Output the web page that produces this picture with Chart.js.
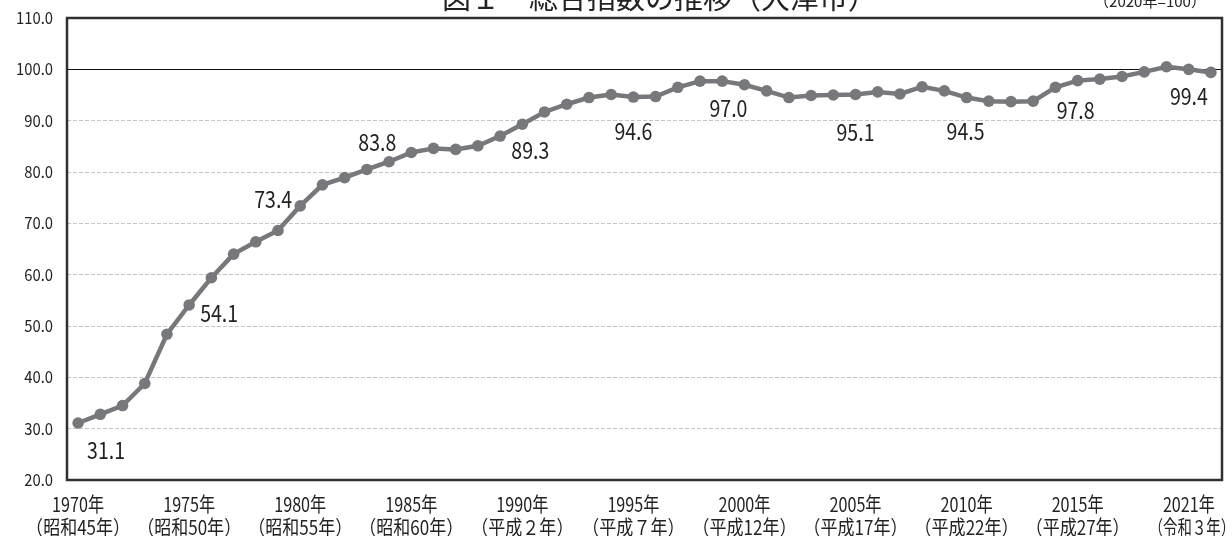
<!DOCTYPE html>
<html><head><meta charset="utf-8">
<script src="https://cdn.jsdelivr.net/npm/chart.js@4.4.1/dist/chart.umd.min.js"></script>
<style>html,body{margin:0;padding:0;background:#fff;overflow:hidden}#wrap{width:1232px;height:536px}</style>
</head><body><div id="wrap"><canvas id="c" width="1232" height="536"></canvas></div>
<script>
const years = ['1970','1971','1972','1973','1974','1975','1976','1977','1978','1979',
 '1980','1981','1982','1983','1984','1985','1986','1987','1988','1989',
 '1990','1991','1992','1993','1994','1995','1996','1997','1998','1999',
 '2000','2001','2002','2003','2004','2005','2006','2007','2008','2009',
 '2010','2011','2012','2013','2014','2015','2016','2017','2018','2019',
 '2020','2021'];
const values = [31.1,32.8,34.5,38.8,48.4,54.1,59.4,64.0,66.4,68.6,
 73.4,77.5,78.9,80.5,82.0,83.8,84.6,84.4,85.1,87.0,
 89.3,91.7,93.2,94.5,95.1,94.6,94.7,96.5,97.7,97.7,
 97.0,95.8,94.5,94.9,95.0,95.1,95.6,95.2,96.6,95.8,
 94.5,93.8,93.7,93.8,96.5,97.8,98.1,98.6,99.5,100.5,
 100.0,99.4];
const yTicks = [20,30,40,50,60,70,80,90,100,110];
const xTickYears = ['1970','1975','1980','1985','1990','1995','2000','2005','2010','2015','2021'];
const xTickLine1 = ['1970年','1975年','1980年','1985年','1990年','1995年','2000年','2005年','2010年','2015年','2021年'];
const xTickLine2 = ['（昭和45年）','（昭和50年）','（昭和55年）','（昭和60年）','（平成２年）','（平成７年）','（平成12年）','（平成17年）','（平成22年）','（平成27年）','（令和３年）'];
const labelYears = ['1970','1975','1980','1985','1990','1995','2000','2005','2010','2015','2021'];
const titleText = '図１　総合指数の推移（大津市）';
const unitText = '（2020年=100）';

// label placement (offsets from the point centre, px)
const labelOffsets = {
 '1970':[28,27],'1975':[30,8],'1980':[-27,-7],'1985':[-34,-10],'1990':[8,26],
 '1995':[0,34],'2000':[-16,24],'2005':[0,38],'2010':[-1,34],'2015':[-2,30],'2021':[-22,24]
};
const tickShift = {'2021':[-22,-19]};
const tickScale2 = {'2021':0.72};

const FONT = '"Noto Sans CJK JP","Noto Sans",sans-serif';
function scaleFor(ctx, s, size, target){
  ctx.save(); ctx.font = size+'px '+FONT; const w = ctx.measureText(s).width; ctx.restore();
  return target / w;
}
function txt(ctx, s, x, y, size, sx, align, color){
  ctx.save();
  ctx.font = size+'px '+FONT;
  ctx.fillStyle = color || '#222';
  ctx.textBaseline = 'middle';
  ctx.textAlign = 'left';
  const w = ctx.measureText(s).width * sx;
  const x0 = align === 'center' ? x - w/2 : align === 'right' ? x - w : x;
  ctx.translate(x0, y); ctx.scale(sx, 1);
  ctx.fillText(s, 0, 0);
  ctx.restore();
}

const custom = {
  id:'custom',
  beforeDatasetsDraw(chart){
    const {ctx, chartArea:a, scales:{y}} = chart;
    ctx.save();
    const y100 = Math.round(y.getPixelForValue(100)) + 0.5;
    ctx.strokeStyle = '#111'; ctx.lineWidth = 1.2;
    ctx.beginPath(); ctx.moveTo(a.left, y100); ctx.lineTo(a.right, y100); ctx.stroke();
    ctx.strokeStyle = '#303030'; ctx.lineWidth = 2.5;
    ctx.strokeRect(a.left, a.top, a.right - a.left, a.bottom - a.top);
    ctx.restore();
  },
  afterDraw(chart){
    const {ctx, scales:{x, y}} = chart;
    // y tick labels
    const sy = scaleFor(ctx, '110.0', 16, 37);
    yTicks.forEach(v => txt(ctx, v.toFixed(1), 53, y.getPixelForValue(v), 16, sy, 'right', '#222'));
    // x tick labels
    const sx = scaleFor(ctx, '1970年', 20, 52);
    const sx2 = scaleFor(ctx, '（昭和45年）', 20, 104);
    xTickYears.forEach((yr, i) => {
      const px = x.getPixelForValue(years.indexOf(yr));
      const sh = tickShift[yr] || [0,0];
      txt(ctx, xTickLine1[i], px + sh[0], 504, 20, sx, 'center', '#222');
      txt(ctx, xTickLine2[i], px + sh[1], 527, 20, tickScale2[yr] || sx2, 'center', '#222');
    });
    // data labels
    const sd = scaleFor(ctx, '31.1', 23, 38);
    labelYears.forEach(yr => {
      const i = years.indexOf(yr);
      const px = x.getPixelForValue(i), py = y.getPixelForValue(values[i]);
      const o = labelOffsets[yr];
      txt(ctx, values[i].toFixed(1), px + o[0], py + o[1], 23, sd, 'center', '#222');
    });
    // title (top cut off as in the reference)
    ctx.save();
    ctx.font = '29px ' + FONT; ctx.fillStyle = '#222'; ctx.textAlign = 'left'; ctx.textBaseline = 'alphabetic';
    ctx.fillText(titleText, 442, 9);
    ctx.restore();
    ctx.save();
    ctx.font = '15px ' + FONT; ctx.fillStyle = '#222'; ctx.textAlign = 'left'; ctx.textBaseline = 'alphabetic';
    const w = ctx.measureText(unitText).width;
    ctx.translate(1094, 6.5); ctx.scale(112 / w, 1);
    ctx.fillText(unitText, 0, 0);
    ctx.restore();
  }
};

new Chart(document.getElementById('c'), {
  type:'line',
  data:{labels:years, datasets:[{data:values, borderColor:'#77787c', backgroundColor:'#77787c',
    borderWidth:4.5, pointRadius:5.8, pointHoverRadius:5.8, pointBackgroundColor:'#77787c',
    pointBorderWidth:0, tension:0}]},
  options:{
    responsive:false, animation:false, devicePixelRatio:1, events:[],
    layout:{padding:{top:18, right:10, left:0, bottom:0}},
    plugins:{legend:{display:false}, tooltip:{enabled:false}, title:{display:false}},
    scales:{
      x:{type:'category', offset:true, grid:{display:false, drawTicks:false}, border:{display:false},
         ticks:{display:false}, afterFit(s){ s.height = 56; }},
      y:{min:20, max:110,
         afterBuildTicks(s){ s.ticks = yTicks.map(v => ({value:v})); },
         grid:{color:c => (c.tick && (c.tick.value === 100 || c.tick.value === 20 || c.tick.value === 110)) ? 'rgba(0,0,0,0)' : '#c4c4c4',
               lineWidth:1, drawTicks:false},
         border:{display:false, dash:[4,2]},
         ticks:{display:false}, afterFit(s){ s.width = 67; }}
    }
  },
  plugins:[custom]
});
</script>
</body></html>
